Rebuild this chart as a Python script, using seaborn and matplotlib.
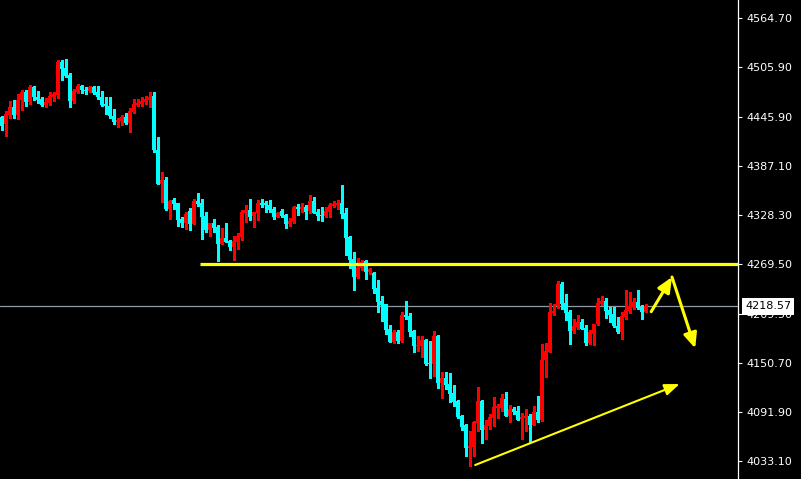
import matplotlib
matplotlib.use("Agg")
import matplotlib.pyplot as plt
import numpy as np
import pandas as pd
import seaborn as sns

# Precios OHLC (velas de izquierda a derecha)
apertura = [4445.8, 4438.2, 4449.0, 4458.6, 4449.0, 4466.2, 4476.6, 4463.8, 4481.8, 4470.6,
            4468.2, 4461.0, 4463.0, 4470.6, 4473.0, 4511.8, 4505.0, 4497.0, 4465.8, 4476.6,
            4483.8, 4479.0, 4477.8, 4481.8, 4475.8, 4470.6, 4462.2, 4459.8, 4447.8, 4440.6,
            4441.8, 4446.6, 4439.4, 4452.6, 4461.0, 4462.2, 4464.6, 4467.0, 4471.8, 4407.0,
            4366.2, 4371.0, 4336.2, 4347.0, 4343.4, 4324.2, 4319.4, 4333.8, 4318.2, 4345.8,
            4343.4, 4327.8, 4311.0, 4319.4, 4314.6, 4293.0, 4301.4, 4296.6, 4289.4, 4295.4,
            4302.6, 4331.4, 4335.0, 4327.8, 4331.4, 4343.4, 4343.4, 4341.0, 4336.2, 4326.6,
            4333.8, 4329.0, 4318.2, 4320.6, 4338.6, 4336.2, 4338.6, 4333.8, 4345.8, 4332.6,
            4329.0, 4327.8, 4332.6, 4339.8, 4341.0, 4343.4, 4331.4, 4302.6, 4275.0, 4253.4,
            4264.2, 4272.6, 4259.4, 4258.2, 4240.2, 4224.6, 4221.0, 4191.0, 4175.4, 4187.4,
            4176.6, 4207.8, 4206.6, 4188.6, 4170.6, 4170.6, 4177.8, 4150.2, 4149.0, 4182.6,
            4126.2, 4132.2, 4125.0, 4114.2, 4104.6, 4086.6, 4075.8, 4048.2, 4049.4, 4078.2,
            4104.6, 4069.8, 4074.6, 4084.2, 4096.2, 4096.2, 4107.0, 4086.6, 4095.0, 4092.6,
            4083.0, 4084.2, 4086.6, 4075.8, 4091.4, 4081.8, 4153.8, 4163.4, 4210.2, 4218.6,
            4245.0, 4222.2, 4211.4, 4188.6, 4193.4, 4199.4, 4192.2, 4174.2, 4185.0, 4197.0,
            4221.0, 4224.6, 4213.8, 4209.0, 4194.6, 4187.4, 4205.4, 4212.6, 4217.4, 4223.4,
            4217.4, 4211.4]

maximo = [4447.8, 4453.8, 4465.8, 4467.0, 4474.2, 4479.0, 4478.2, 4485.0, 4483.8, 4477.8,
          4470.6, 4468.6, 4476.6, 4475.8, 4515.0, 4515.0, 4516.2, 4499.0, 4480.2, 4485.8,
          4485.0, 4481.8, 4483.8, 4483.0, 4483.0, 4477.0, 4470.6, 4470.6, 4456.2, 4445.4,
          4448.2, 4451.4, 4457.4, 4468.2, 4468.2, 4470.6, 4471.8, 4476.6, 4476.6, 4422.6,
          4380.6, 4374.6, 4347.0, 4349.4, 4343.4, 4326.6, 4332.6, 4337.4, 4348.2, 4355.4,
          4348.2, 4332.6, 4319.4, 4324.2, 4317.0, 4313.4, 4319.4, 4299.0, 4303.8, 4307.4,
          4335.0, 4341.0, 4348.2, 4332.6, 4347.0, 4348.2, 4345.8, 4347.0, 4338.6, 4332.6,
          4336.2, 4330.2, 4325.4, 4339.8, 4342.2, 4343.4, 4341.0, 4353.0, 4350.6, 4336.2,
          4338.6, 4338.6, 4343.4, 4345.8, 4347.0, 4365.0, 4337.4, 4303.8, 4283.4, 4276.2,
          4273.8, 4273.8, 4264.2, 4259.4, 4249.8, 4230.6, 4221.0, 4195.8, 4189.8, 4189.8,
          4211.4, 4224.6, 4210.2, 4189.8, 4182.6, 4182.6, 4179.0, 4176.6, 4188.6, 4183.8,
          4139.4, 4139.4, 4138.2, 4123.8, 4105.8, 4087.8, 4077.0, 4068.6, 4080.6, 4121.4,
          4105.8, 4081.8, 4089.0, 4109.4, 4101.0, 4113.0, 4115.4, 4099.8, 4097.4, 4098.6,
          4090.2, 4095.0, 4089.0, 4098.6, 4110.6, 4173.0, 4174.2, 4222.2, 4221.0, 4248.6,
          4247.4, 4233.0, 4213.8, 4203.0, 4207.8, 4203.0, 4195.8, 4189.8, 4197.0, 4228.2,
          4230.6, 4228.2, 4217.4, 4217.4, 4205.4, 4211.4, 4237.8, 4235.4, 4228.2, 4237.8,
          4219.8, 4221.0]

minimo = [4431.0, 4423.8, 4445.4, 4445.4, 4444.2, 4455.0, 4459.0, 4462.2, 4467.0, 4463.4,
          4459.0, 4458.6, 4461.0, 4465.0, 4469.0, 4491.0, 4494.2, 4458.2, 4463.4, 4475.0,
          4474.6, 4473.4, 4475.8, 4474.2, 4468.2, 4459.0, 4450.2, 4444.6, 4438.2, 4434.6,
          4437.0, 4438.2, 4428.6, 4451.4, 4459.0, 4459.0, 4462.2, 4458.6, 4404.6, 4366.2,
          4344.6, 4335.0, 4324.2, 4336.2, 4315.8, 4314.6, 4312.2, 4311.0, 4318.2, 4339.8,
          4300.2, 4308.6, 4303.8, 4308.6, 4272.6, 4293.0, 4295.4, 4285.8, 4273.8, 4287.0,
          4299.0, 4320.6, 4323.0, 4314.6, 4323.0, 4338.6, 4332.6, 4332.6, 4324.2, 4326.6,
          4326.6, 4313.4, 4315.8, 4319.4, 4329.0, 4332.6, 4324.2, 4331.4, 4331.4, 4323.0,
          4321.8, 4326.6, 4326.6, 4338.6, 4336.2, 4325.4, 4279.8, 4264.2, 4237.8, 4252.2,
          4261.8, 4251.0, 4257.0, 4234.2, 4211.4, 4200.6, 4185.0, 4175.4, 4174.2, 4174.2,
          4175.4, 4203.0, 4182.6, 4163.4, 4164.6, 4157.4, 4147.8, 4132.2, 4134.6, 4120.2,
          4108.2, 4119.0, 4103.4, 4098.6, 4084.2, 4069.8, 4038.6, 4026.6, 4038.6, 4068.6,
          4054.2, 4059.0, 4071.0, 4074.6, 4084.2, 4092.6, 4086.6, 4079.4, 4089.0, 4081.8,
          4059.0, 4068.6, 4055.4, 4075.8, 4079.4, 4080.6, 4133.4, 4163.4, 4207.8, 4216.2,
          4215.0, 4201.8, 4173.0, 4186.2, 4191.0, 4191.0, 4171.8, 4173.0, 4171.8, 4195.8,
          4219.8, 4204.2, 4199.4, 4193.4, 4186.2, 4179.0, 4203.0, 4210.2, 4215.0, 4215.0,
          4203.0, 4211.4]

cierre = [4435.0, 4449.8, 4458.6, 4449.0, 4467.0, 4476.6, 4463.8, 4481.8, 4469.8, 4467.0,
          4461.0, 4464.6, 4471.8, 4474.2, 4512.6, 4504.2, 4495.8, 4465.8, 4477.8, 4483.8,
          4478.2, 4477.4, 4481.8, 4475.4, 4469.8, 4461.0, 4459.8, 4447.0, 4440.6, 4443.0,
          4446.6, 4439.4, 4453.8, 4462.2, 4463.4, 4465.8, 4468.2, 4470.6, 4407.0, 4366.2,
          4371.0, 4336.2, 4345.8, 4342.2, 4323.0, 4319.4, 4330.2, 4318.2, 4345.8, 4342.2,
          4326.6, 4311.0, 4319.4, 4313.4, 4293.0, 4301.4, 4295.4, 4289.4, 4296.6, 4303.8,
          4332.6, 4335.0, 4326.6, 4332.6, 4343.4, 4341.0, 4341.0, 4335.0, 4326.6, 4331.4,
          4327.8, 4318.2, 4321.8, 4338.6, 4336.2, 4338.6, 4332.6, 4345.8, 4331.4, 4327.8,
          4327.8, 4333.8, 4341.0, 4342.2, 4343.4, 4330.2, 4301.4, 4273.8, 4253.4, 4265.4,
          4271.4, 4259.4, 4263.0, 4239.0, 4223.4, 4219.8, 4189.8, 4175.4, 4187.4, 4176.6,
          4207.8, 4205.4, 4187.4, 4170.6, 4171.8, 4177.8, 4149.0, 4149.0, 4182.6, 4126.2,
          4132.2, 4123.8, 4113.0, 4103.4, 4085.4, 4073.4, 4048.2, 4050.6, 4079.4, 4104.6,
          4069.8, 4075.8, 4085.4, 4097.4, 4098.6, 4108.2, 4086.6, 4095.0, 4091.4, 4081.8,
          4085.4, 4086.6, 4075.8, 4091.4, 4081.8, 4153.8, 4164.6, 4211.4, 4212.6, 4245.0,
          4221.0, 4210.2, 4188.6, 4194.6, 4199.4, 4191.0, 4174.2, 4187.4, 4197.0, 4222.2,
          4224.6, 4212.6, 4207.8, 4194.6, 4187.4, 4206.6, 4213.8, 4218.6, 4223.4, 4216.2,
          4211.4, 4218.57]

# Niveles del eje de precios
niveles_eje = [4033.10, 4091.90, 4150.70, 4209.50, 4269.50,
               4328.30, 4387.10, 4445.90, 4505.90, 4564.70]

# Resistencia horizontal y precio actual
resistencia = 4269.50
precio_actual = 4218.57

df = pd.DataFrame({"open": apertura, "high": maximo,
                   "low": minimo, "close": cierre})
df["idx"] = np.arange(len(df))
df["sube"] = df["close"] >= df["open"]

sns.set_style("dark", {"axes.facecolor": "black", "figure.facecolor": "black",
                       "axes.edgecolor": "white"})
plt.rcParams["font.family"] = ["DejaVu Sans"]

fig = plt.figure(figsize=(8.01, 4.79), dpi=100)
ax = fig.add_axes([0, 0, 738 / 801, 1])
ax.set_facecolor("black")

rojo = "#ff0000"
cian = "#00ffff"
colores = np.where(df["sube"], rojo, cian)

# Mechas
ax.vlines(df["idx"], df["low"], df["high"], colors=colores,
          linewidth=0.9, antialiased=False, zorder=2)

# Cuerpos
cuerpo_bajo = df[["open", "close"]].min(axis=1)
cuerpo_alto = np.maximum((df["close"] - df["open"]).abs(), 1.2)
ax.bar(df["idx"], cuerpo_alto, bottom=cuerpo_bajo, width=0.75,
       color=colores, linewidth=0, antialiased=False, zorder=3)

# Linea de precio actual
ax.axhline(precio_actual, color="#8e9aa6", linewidth=0.9, zorder=1)

# Linea de resistencia amarilla
ax.hlines(resistencia, 49.6, 186, color="#ffff00", linewidth=2.3, zorder=4)

# Flechas de proyeccion
flecha = dict(arrowstyle="-|>,head_length=0.9,head_width=0.4",
              color="#ffff00", lw=2.2, shrinkA=0, shrinkB=0)
ax.annotate("", xy=(167.6, 4253.9), xytext=(162.4, 4212.3), arrowprops=flecha, zorder=5)
ax.annotate("", xy=(173.4, 4168.3), xytext=(167.6, 4253.9), arrowprops=flecha, zorder=5)
flecha_fina = dict(arrowstyle="-|>,head_length=0.9,head_width=0.35",
                   color="#ffff00", lw=1.5, shrinkA=0, shrinkB=0)
ax.annotate("", xy=(169.5, 4125.4), xytext=(118.4, 4028.1),
            arrowprops=flecha_fina, zorder=5)

ax.set_xlim(-0.375, 184.1)
ax.set_ylim(4011.3, 4586.7)

ax.yaxis.tick_right()
ax.set_yticks(niveles_eje)
ax.set_yticklabels([f"{v:.2f}" for v in niveles_eje])
ax.tick_params(axis="y", colors="white", labelcolor="white", labelsize=8,
               length=3, width=0.8, pad=3, right=True, left=False)
ax.set_xticks([])
ax.grid(False)
for lado in ["left", "top", "bottom"]:
    ax.spines[lado].set_visible(False)
ax.spines["right"].set_color("white")
ax.spines["right"].set_linewidth(0.9)

# Etiqueta del precio actual
ax.annotate(f"{precio_actual:.2f}", xy=(1, precio_actual),
            xycoords=("axes fraction", "data"), xytext=(5, 0),
            textcoords="offset points", va="center", ha="left",
            fontsize=8, color="black", annotation_clip=False,
            bbox=dict(boxstyle="square,pad=0.3", fc="white", ec="none"),
            zorder=10)

fig.savefig("out.png", dpi=100, facecolor="black")
